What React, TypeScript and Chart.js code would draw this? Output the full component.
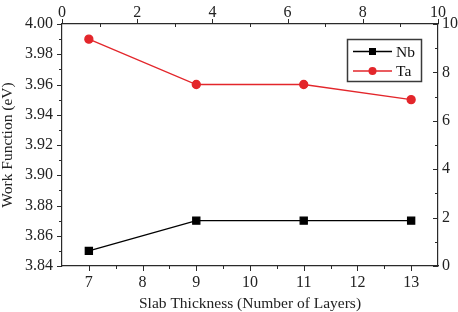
import React, { useEffect, useRef } from 'react';
import { Chart, registerables } from 'chart.js';

Chart.register(...registerables);

// ---- data ----
const layers = [7, 9, 11, 13];
const nbValues = [3.85, 3.87, 3.87, 3.87];
const taValues = [3.99, 3.96, 3.96, 3.95];
const seriesNames = ['Nb', 'Ta'];

const xTicks = [7, 8, 9, 10, 11, 12, 13];
const yTicks = [3.84, 3.86, 3.88, 3.9, 3.92, 3.94, 3.96, 3.98, 4.0];
const topTicks = [0, 2, 4, 6, 8, 10];
const rightTicks = [0, 2, 4, 6, 8, 10];

const xTitle = 'Slab Thickness (Number of Layers)';
const yTitle = 'Work Function (eV)';

const FONT = "'Liberation Serif', 'Times New Roman', serif";
const AXIS_COLOR = '#2a2a2a';
const RED = '#e3262b';

const midpoints = (arr: number[]) => {
  const out: number[] = [];
  for (let i = 0; i < arr.length - 1; i++) out.push((arr[i] + arr[i + 1]) / 2);
  return out;
};

const tickSpecs: Record<string, { majors: number[]; majorDir: number; minorDir: number }> = {
  x: { majors: xTicks, majorDir: 1, minorDir: 1 },
  y: { majors: yTicks, majorDir: 1, minorDir: 1 },
  x2: { majors: topTicks, majorDir: 1, minorDir: -1 },
  y2: { majors: rightTicks, majorDir: -1, minorDir: -1 },
};

const tickPlugin = {
  id: 'axisTicks',
  afterDraw(chart: any) {
    const ctx = chart.ctx;
    ctx.save();
    ctx.strokeStyle = AXIS_COLOR;
    ctx.lineWidth = 1;
    const MAJ = 5;
    const MIN = 3;
    Object.keys(tickSpecs).forEach((id) => {
      const scale = chart.scales[id];
      if (!scale) return;
      const spec = tickSpecs[id];
      const draw = (v: number, len: number, dir: number) => {
        const p = Math.round(scale.getPixelForValue(v)) + 0.5;
        ctx.beginPath();
        if (id === 'x') {
          const e = scale.top;
          ctx.moveTo(p, e);
          ctx.lineTo(p, e + dir * len);
        } else if (id === 'x2') {
          const e = scale.bottom;
          ctx.moveTo(p, e);
          ctx.lineTo(p, e - dir * len);
        } else if (id === 'y') {
          const e = scale.right;
          ctx.moveTo(e, p);
          ctx.lineTo(e - dir * len, p);
        } else {
          const e = scale.left;
          ctx.moveTo(e, p);
          ctx.lineTo(e + dir * len, p);
        }
        ctx.stroke();
      };
      spec.majors.forEach((v) => draw(v, MAJ, spec.majorDir));
      midpoints(spec.majors).forEach((v) => draw(v, MIN, spec.minorDir));
    });
    ctx.restore();
  },
};

const legendPlugin = {
  id: 'boxLegend',
  afterDraw(chart: any) {
    const ctx = chart.ctx;
    const area = chart.chartArea;
    const boxRight = area.right - 17;
    const boxTop = area.top + 15;
    const boxW = 74;
    const boxH = 42;
    const left = boxRight - boxW;
    ctx.save();
    ctx.fillStyle = '#ffffff';
    ctx.fillRect(left, boxTop, boxW, boxH);
    ctx.strokeStyle = '#3a3a3a';
    ctx.lineWidth = 1.5;
    ctx.strokeRect(left + 0.5, boxTop + 0.5, boxW, boxH);
    chart.data.datasets.forEach((ds: any, i: number) => {
      const y = boxTop + 12.5 + i * 19.5;
      const x0 = left + 6;
      const x1 = left + 45;
      ctx.strokeStyle = ds.borderColor;
      ctx.lineWidth = 1.3;
      ctx.beginPath();
      ctx.moveTo(x0, y);
      ctx.lineTo(x1, y);
      ctx.stroke();
      ctx.fillStyle = ds.pointBackgroundColor;
      const cx = (x0 + x1) / 2;
      if (ds.pointStyle === 'rect') {
        ctx.fillRect(cx - 3.5, y - 3.5, 7, 7);
      } else {
        ctx.beginPath();
        ctx.arc(cx, y, 4, 0, Math.PI * 2);
        ctx.fill();
      }
      ctx.fillStyle = '#111';
      ctx.font = `15.5px ${FONT}`;
      ctx.textBaseline = 'middle';
      ctx.textAlign = 'left';
      ctx.fillText(ds.label, x1 + 4, y + 1);
    });
    ctx.restore();
  },
};

const fixedTicks = (vals: number[]) => (scale: any) => {
  scale.ticks = vals.map((v) => ({ value: v }));
};

export default function App() {
  const ref = useRef<HTMLCanvasElement>(null);
  useEffect(() => {
    if (!ref.current) return;
    const tickFont = { family: FONT, size: 16 };
    const titleFont = { family: FONT, size: 15.5 };
    const chart = new Chart(ref.current, {
      type: 'line',
      data: {
        datasets: [
          {
            label: seriesNames[0],
            data: layers.map((x, i) => ({ x, y: nbValues[i] })),
            borderColor: '#000000',
            backgroundColor: '#000000',
            pointBackgroundColor: '#000000',
            pointBorderColor: '#000000',
            pointStyle: 'rect',
            pointRadius: 5,
            borderWidth: 1.3,
            xAxisID: 'x',
            yAxisID: 'y',
          },
          {
            label: seriesNames[1],
            data: layers.map((x, i) => ({ x, y: taValues[i] })),
            borderColor: RED,
            backgroundColor: RED,
            pointBackgroundColor: RED,
            pointBorderColor: RED,
            pointStyle: 'circle',
            pointRadius: 4,
            borderWidth: 1.3,
            xAxisID: 'x',
            yAxisID: 'y',
          },
        ],
      },
      options: {
        animation: false,
        responsive: false,
        maintainAspectRatio: false,
        layout: { padding: 0 },
        plugins: { legend: { display: false }, tooltip: { enabled: false } },
        scales: {
          x: {
            type: 'linear',
            position: 'bottom',
            min: 6.5,
            max: 13.5,
            afterBuildTicks: fixedTicks(xTicks),
            afterFit: (s: any) => { s.height = 46; },
            grid: { drawOnChartArea: false, drawTicks: false },
            border: { display: true, color: AXIS_COLOR, width: 1.2 },
            ticks: { font: tickFont, color: '#222', padding: 7, maxRotation: 0, callback: (v: any) => String(v) },
            title: { display: true, text: xTitle, font: titleFont, color: '#222', padding: { top: 0, bottom: -1.3 } },
          },
          x2: {
            type: 'linear',
            position: 'top',
            min: 0,
            max: 10,
            afterBuildTicks: fixedTicks(topTicks),
            afterFit: (s: any) => { s.height = 24; },
            grid: { drawOnChartArea: false, drawTicks: false },
            border: { display: true, color: AXIS_COLOR, width: 1.2 },
            ticks: { font: tickFont, color: '#222', padding: 2, maxRotation: 0, callback: (v: any) => String(v) },
          },
          y: {
            type: 'linear',
            position: 'left',
            min: 3.84,
            max: 4.0,
            afterBuildTicks: fixedTicks(yTicks),
            afterFit: (s: any) => { s.width = 62; },
            grid: { drawOnChartArea: false, drawTicks: false },
            border: { display: true, color: AXIS_COLOR, width: 1.2 },
            ticks: { font: tickFont, color: '#222', padding: 9, callback: (v: any) => Number(v).toFixed(2) },
            title: { display: true, text: yTitle, font: titleFont, color: '#222', padding: { top: -1.3, bottom: 0 } },
          },
          y2: {
            type: 'linear',
            position: 'right',
            min: 0,
            max: 10,
            afterBuildTicks: fixedTicks(rightTicks),
            afterFit: (s: any) => { s.width = 20; },
            grid: { drawOnChartArea: false, drawTicks: false },
            border: { display: true, color: AXIS_COLOR, width: 1.2 },
            ticks: { font: tickFont, color: '#222', padding: 4, callback: (v: any) => String(v) },
          },
        },
      },
      plugins: [tickPlugin, legendPlugin],
    } as any);
    return () => chart.destroy();
  }, []);
  return (
    <div style={{ position: 'absolute', left: 0, top: 0, width: 458, height: 312, background: '#fff' }}>
      <canvas ref={ref} width={458} height={312} style={{ width: 458, height: 312, display: 'block' }} />
    </div>
  );
}
